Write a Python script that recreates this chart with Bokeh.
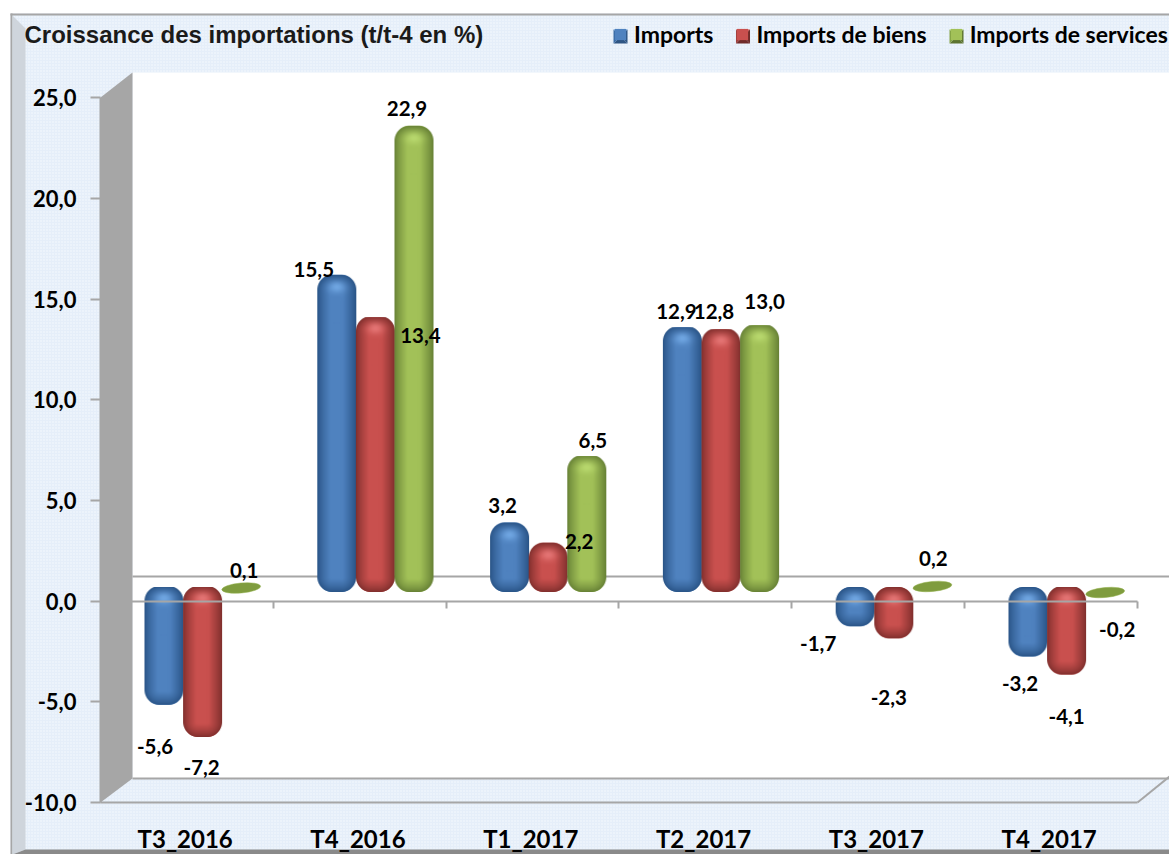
import numpy as np
from bokeh.plotting import figure
from bokeh.embed import file_html
from bokeh.resources import INLINE
from bokeh.core.properties import value
from bokeh.models import (ColumnDataSource, Legend, LegendItem, LinearAxis, FixedTicker,
                          PolyAnnotation, Range1d)

categories = ["T3_2016", "T4_2016", "T1_2017", "T2_2017", "T3_2017", "T4_2017"]
imports_total = [-5.6, 15.5, 3.2, 12.9, -1.7, -3.2]
imports_biens = [-7.2, 13.4, 2.2, 12.8, -2.3, -4.1]
imports_services = [0.1, 22.9, 6.5, 13.0, 0.2, -0.2]
value_ticks = [-10, -5, 0, 5, 10, 15, 20, 25]
value_tick_labels = ["-10,0", "-5,0", "0,0", "5,0", "10,0", "15,0", "20,0", "25,0"]
series_names = ["Imports", "Imports de biens", "Imports de services"]
title_text = "Croissance des importations (t/t-4 en %)"

# label placement relative to each bar's end, in pixels
label_dx = [[-9, -23, -7, -6, -37, -8], [-1, 45, 31, -7, -5, 0], [3, -7, 6, 5, 1, 12]]
label_dy = [[42, -6, -18, -16, 18, 28], [31, 18, -2, -18, 60, 42], [-15, -18, -16, -24, -25, 34]]

MID = [(79, 130, 191), (201, 80, 78), (162, 193, 88)]
DARK = [(40, 82, 132), (125, 46, 44), (100, 126, 52)]
HIGH = [(120, 175, 235), (235, 125, 125), (190, 222, 115)]
SW_LIGHT = ["#4a86c8", "#c9504e", "#a6cc5a"]
SW_MID = ["#3a6ca6", "#a03f3c", "#83a244"]
SW_DARK = ["#2e5583", "#6f2b29", "#5d7430"]
PANEL = "#e5eef9"
GRID = "#a6a6a6"
SANS = "Lato"

W, H = 1169, 854
XS, YS = 172.8, 730 / 36.25       # px per data unit
X0, Y0PX = 100, 600.6             # where data (0, 0) falls on the canvas

def X(px):
    return (px - X0) / XS

def Y(py):
    return (Y0PX - py) / YS

p = figure(width=W, height=H, output_backend="svg", toolbar_location=None,
           x_range=Range1d(X(0), X(W)), y_range=Range1d(Y(H), Y(0)),
           min_border_left=0, min_border_right=0, min_border_top=0, min_border_bottom=0,
           x_axis_type=None, y_axis_type=None, outline_line_color=None,
           border_fill_color="white", background_fill_color="white")
p.grid.visible = False

def poly(pts, color, **kw):
    p.patch([X(a) for a, _ in pts], [Y(b) for _, b in pts], fill_color=color, line_color=None, **kw)

# chart panel, frame and bevels
p.quad(left=X(10), right=X(W), bottom=Y(H), top=Y(13), fill_color=PANEL, line_color=None,
       hatch_pattern="dot", hatch_color="#ffffff", hatch_scale=3, hatch_alpha=0.7, hatch_weight=1)
poly([(10, 13), (W, 13), (W, 15), (10, 15)], GRID)
poly([(10, 13), (12, 13), (12, H), (10, H)], GRID)
poly([(12, 15), (25, 28), (25, 849), (12, H)], "#cfd5dc")
poly([(12, H), (25, 849), (W, 849), (W, H)], "#8a8a8a")

# 3D box
poly([(132, 72), (W, 72), (W, 778), (132, 778)], "white")
poly([(100, 97), (132, 72), (132, 778), (100, 802)], GRID)
p.segment(x0=[X(132), X(132), X(1137)], y0=[Y(576), Y(778), Y(802)],
          x1=[X(W), X(W), X(W)], y1=[Y(576), Y(778), Y(776)], line_color=GRID, line_width=2)

# bars
Y0 = Y(589)
OVER = 2.5 / YS
BAR_W = 39 / XS
BAR_STEP = 38.6 / XS
group_centers = np.arange(6) + 0.5 + 15.7 / XS

def shading(j, w, h):
    yy, xx = np.mgrid[0:h, 0:w]
    xx = xx + 0.5
    yy = yy + 0.5
    r = min(15.0, h / 2, w / 2)
    qx = np.abs(xx - w / 2) - (w / 2 - r)
    qy = np.abs(yy - h / 2) - (h / 2 - r)
    sdf = np.hypot(np.maximum(qx, 0), np.maximum(qy, 0)) + np.minimum(np.maximum(qx, qy), 0) - r
    alpha = np.clip(0.5 - sdf, 0, 1)
    t = np.clip(-sdf / 13.0, 0, 1)
    sh = t ** 0.75
    sh = sh * (1 - 0.18 * np.clip((xx - w * 0.6) / (w * 0.4), 0, 1))
    mid, dark, high = np.array(MID[j]), np.array(DARK[j]), np.array(HIGH[j])
    col = dark[None, None, :] * (1 - sh[..., None]) + mid[None, None, :] * sh[..., None]
    spot = np.exp(-(((xx - w / 2) / 8.0) ** 2 + ((yy - 12) / 6.0) ** 2)) * 0.8
    col = col * (1 - spot[..., None]) + high[None, None, :] * spot[..., None]
    img = np.zeros((h, w), dtype=np.uint32)
    view = img.view(dtype=np.uint8).reshape((h, w, 4))
    view[..., :3] = np.clip(col, 0, 255).astype(np.uint8)
    view[..., 3] = (alpha * 255).astype(np.uint8)
    return img[::-1]

all_series = [imports_total, imports_biens, imports_services]
legend_items = []
for j, vals in enumerate(all_series):
    vals = np.array(vals, dtype=float)
    xc = group_centers + (j - 1) * BAR_STEP
    big = np.abs(vals) >= 0.5
    top = np.where(vals > 0, Y0 + OVER + vals, Y0 + OVER)
    bot = np.where(vals > 0, Y0 - OVER, Y0 - OVER + vals)
    src = ColumnDataSource(dict(x=xc[big], top=top[big], bottom=bot[big]))
    hexc = "#%02x%02x%02x" % MID[j]
    r = p.vbar(x="x", top="top", bottom="bottom", width=BAR_W * 0.92, source=src, fill_color=hexc,
               line_color=None, border_radius=13)
    legend_items.append(LegendItem(label=series_names[j], renderers=[r]))
    for xi, ti, bi in zip(xc[big], top[big], bot[big]):
        hpx = int(round((ti - bi) * YS))
        p.image_rgba(image=[shading(j, 39, hpx)], x=xi - BAR_W / 2, y=bi, dw=BAR_W, dh=ti - bi)
    small = ~big
    p.ellipse(x=xc[small], y=Y0 + 0.75 * vals[small], width=39, height=10, angle=0.09,
              width_units="screen", height_units="screen", fill_color="#7f9c3e", line_color="#95b34e",
              line_width=0.5)

# data labels
for j, vals in enumerate(all_series):
    vals = np.array(vals, dtype=float)
    xc = group_centers + (j - 1) * BAR_STEP
    ends = np.where(vals > 0, Y0 + 2 / YS + vals, Y0 - 2 / YS + vals)
    lab = [f"{v:.1f}".replace(".", ",") for v in vals]
    p.text(x=xc, y=ends, text=lab, x_offset=label_dx[j], y_offset=label_dy[j], text_align="center",
           text_baseline="middle", text_font=value(SANS), text_font_style="bold",
           text_font_size="20.5px", text_color="black")

# title
p.text(x=[X(24)], y=[Y(34)], text=[title_text], text_align="left", text_baseline="middle",
       text_font=value("Liberation Sans"), text_font_style="bold", text_font_size="24px",
       text_color="#1a1a1a")

# value axis
yax = LinearAxis(ticker=FixedTicker(ticks=value_ticks), fixed_location=0, bounds=(-10, 25), major_label_standoff=14,
                 major_label_overrides={t: l for t, l in zip(value_ticks, value_tick_labels)},
                 major_label_text_font=SANS, major_label_text_font_style="bold",
                 major_label_text_font_size="22px", major_label_text_color="black",
                 axis_line_color=GRID, axis_line_width=2, major_tick_line_color=GRID,
                 major_tick_line_width=2, major_tick_out=10, major_tick_in=0, minor_tick_line_color=None)
p.add_layout(yax, "left")

# category axis (labels, bottom edge of the box)
cat_ticks = [i + 0.49 for i in range(6)]
xax = LinearAxis(ticker=FixedTicker(ticks=cat_ticks), bounds=(0, 6), fixed_location=-10, major_label_standoff=22,
                 major_label_overrides={t: c for t, c in zip(cat_ticks, categories)},
                 major_label_text_font=SANS, major_label_text_font_style="bold",
                 major_label_text_font_size="24px", major_label_text_color="black",
                 axis_line_color=GRID, axis_line_width=2, major_tick_line_color=None,
                 major_tick_out=0, major_tick_in=0, minor_tick_line_color=None)
p.add_layout(xax, "below")

# zero line with group ticks
zero_ticks = [1, 2, 3, 4, 5, 6]
zax = LinearAxis(ticker=FixedTicker(ticks=zero_ticks), bounds=(0, 6), fixed_location=0,
                 major_label_overrides={t: "" for t in zero_ticks}, axis_line_color=GRID, axis_line_width=2,
                 major_tick_line_color=GRID, major_tick_line_width=2, major_tick_out=7, major_tick_in=0,
                 minor_tick_line_color=None)
p.add_layout(zax, "below")

# legend
legend = Legend(items=legend_items, orientation="horizontal", location=(613, H - 48), padding=0, margin=0,
                spacing=22, glyph_width=14, glyph_height=14, label_standoff=7,
                label_text_font=SANS, label_text_font_style="bold", label_text_font_size="23px",
                label_text_color="black", border_line_color=None, background_fill_alpha=0)
p.add_layout(legend, "center")

# pyramid shading on the legend swatches
swatch_left = [613, 735.5, 949]
sw_top, sw_size = 29, 14
for j, x in enumerate(swatch_left):
    cx, cy = x + sw_size / 2, sw_top + sw_size / 2
    tl, tr, br, bl = (x, sw_top), (x + sw_size, sw_top), (x + sw_size, sw_top + sw_size), (x, sw_top + sw_size)
    for (a, b), c in zip([(tl, tr), (tr, br), (br, bl), (bl, tl)],
                         [SW_LIGHT[j], SW_DARK[j], SW_DARK[j], SW_MID[j]]):
        p.add_layout(PolyAnnotation(xs=[X(a[0]), X(b[0]), X(cx)], ys=[Y(a[1]), Y(b[1]), Y(cy)],
                                    fill_color=c, fill_alpha=1, line_color=None, level="overlay"))

open("out.html", "w").write(file_html(p, INLINE))
